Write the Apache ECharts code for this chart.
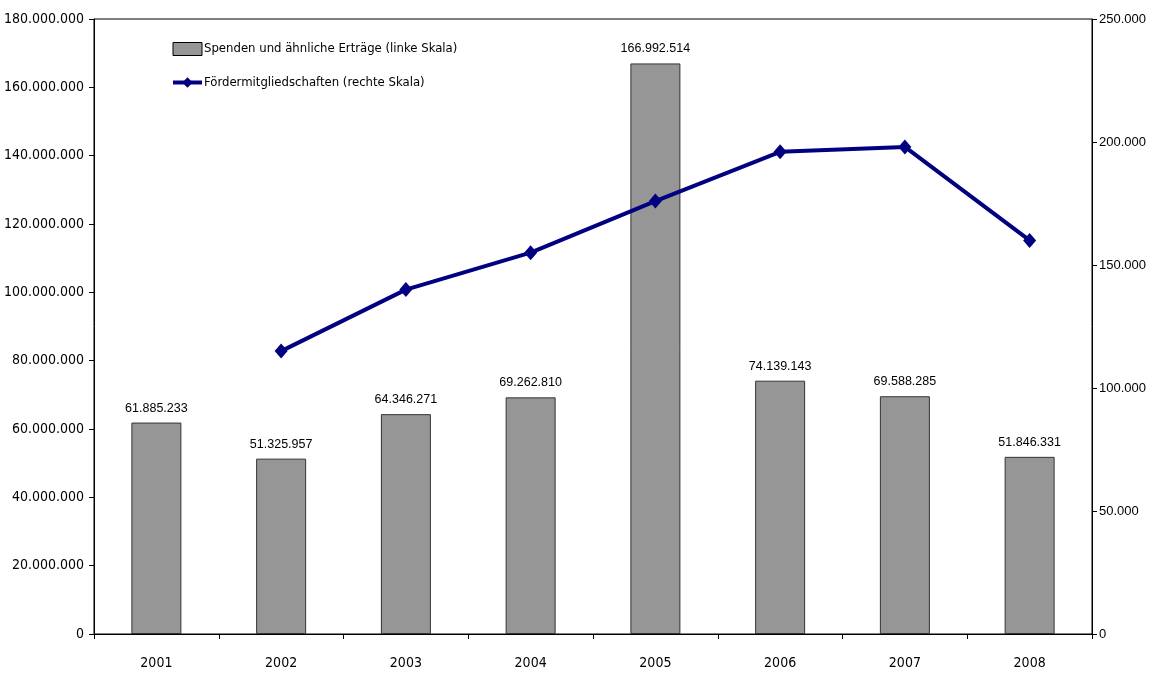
<!DOCTYPE html>
<html><head><meta charset="utf-8">
<script src="https://cdn.jsdelivr.net/npm/echarts@6/dist/echarts.min.js"></script>
<style>html,body{margin:0;padding:0;background:#fff}#c{width:1151px;height:673px}</style>
</head><body><div id="c"></div>
<script>
const years = ['2001','2002','2003','2004','2005','2006','2007','2008'];
const spenden = [61885233, 51325957, 64346271, 69262810, 166992514, 74139143, 69588285, 51846331];
const foerder = [null, 115000, 140000, 155000, 176000, 196000, 198000, 160000];
const barName = 'Spenden und ähnliche Erträge (linke Skala)';
const lineName = 'Fördermitgliedschaften (rechte Skala)';

function fmt(v){ return String(Math.round(v)).replace(/\B(?=(\d{3})+(?!\d))/g,'.'); }
const narrow = '"DejaVu Sans Condensed", "Liberation Sans Narrow", "Roboto Condensed", sans-serif';
const arial = '"Liberation Sans", Arial, sans-serif';

const chart = echarts.init(document.getElementById('c'));
chart.setOption({
  animation:false,
  backgroundColor:'#fff',
  grid:{left:94,right:59,top:19,bottom:39,show:true,borderColor:'#000',borderWidth:1,backgroundColor:'transparent'},
  legend:{
    orient:'vertical',left:166,top:37,itemGap:20,itemWidth:29,itemHeight:13,
    textStyle:{fontFamily:narrow,fontSize:13,color:'#000',padding:[0,0,0,-3]},
    data:[{name:barName,icon:'rect',itemStyle:{borderColor:'#000',borderWidth:1}},
          {name:lineName,lineStyle:{width:4}}]
  },
  xAxis:{type:'category',data:years,
    axisLine:{lineStyle:{color:'#000'}},
    axisTick:{show:true,inside:false,length:5,lineStyle:{color:'#000'}},
    axisLabel:{fontFamily:narrow,fontSize:14,color:'#000',margin:22}
  },
  yAxis:[
    {type:'value',min:0,max:180000000,interval:20000000,position:'left',
     axisLine:{show:true,lineStyle:{color:'#000'}},
     axisTick:{show:true,length:5,lineStyle:{color:'#000'}},
     splitLine:{show:false},
     axisLabel:{fontFamily:narrow,fontSize:14,color:'#000',margin:10,formatter:fmt}},
    {type:'value',min:0,max:250000,interval:50000,position:'right',
     axisLine:{show:true,lineStyle:{color:'#000'}},
     axisTick:{show:true,length:5,lineStyle:{color:'#000'}},
     splitLine:{show:false},
     axisLabel:{fontFamily:arial,fontSize:13,color:'#000',margin:7,formatter:fmt}}
  ],
  series:[
    {name:barName,type:'bar',data:spenden,yAxisIndex:0,barWidth:50,
     itemStyle:{color:'#969696',borderColor:'#333',borderWidth:1},
     label:{show:true,position:'top',distance:8,fontFamily:arial,fontSize:12.5,color:'#000',formatter:p=>fmt(p.value)}},
    {name:lineName,type:'line',data:foerder,yAxisIndex:1,connectNulls:false,
     symbol:'diamond',symbolSize:[13,15],
     lineStyle:{color:'#000080',width:4},
     itemStyle:{color:'#000080'}}
  ]
});
</script></body></html>
